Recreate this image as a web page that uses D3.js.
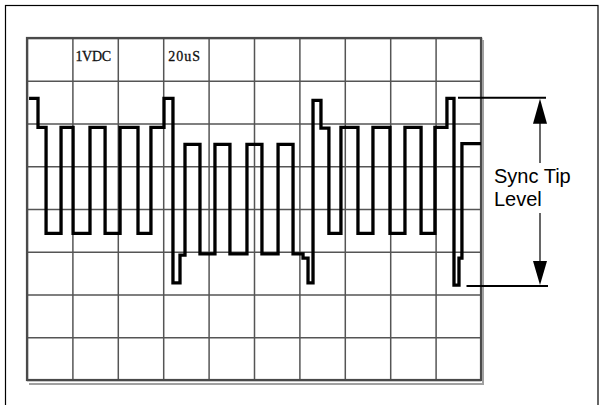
<!DOCTYPE html>
<html>
<head>
<meta charset="utf-8">
<script src="https://cdn.jsdelivr.net/npm/d3@7"></script>
<style>
	body { margin: 0; background: #fff; }
	.grid line { stroke: #555; stroke-width: 1.5; }
	.grid .domain { display: none; }
</style>
</head>
<body>
<div id="chart"></div>
<script>
// scope settings: 20uS per division, 1V per division
var timeTicks = [0, 20, 40, 60, 80, 100, 120, 140, 160, 180, 200];
var voltTicks = [-4, -3, -2, -1, 0, 1, 2, 3, 4];
var scaleLabels = ["1VDC", "20uS"];
var labelTimes = [20, 60];

// step waveform: each level holds from its time to the next time
var waveTime = [0.9, 4.85, 8.4, 15.0, 20.3, 27.75, 34.4, 41.0, 48.9, 54.6,
	60.35, 64.3, 67.4, 69.6, 76.2, 82.8, 89.4, 96.9, 103.5, 110.6,
	117.2, 121.6, 123.8, 126.0, 129.5, 133.0, 138.3, 145.8, 152.4, 159.9,
	166.5, 173.6, 179.7, 185.0, 188.1, 190.3, 191.6, 200];
var waveVolt = [2.59, 1.91, -0.57, 1.91, -0.57, 1.91, -0.57, 1.91, -0.57, 1.91,
	2.59, -1.73, -1.08, 1.51, -1.05, 1.51, -1.05, 1.51, -1.05, 1.51,
	-1.05, -1.15, -1.73, 2.54, 1.89, -0.57, 1.91, -0.57, 1.91, -0.57,
	1.91, -0.57, 1.91, 2.59, -1.78, -1.15, 1.53, 1.53];

// sync tip annotation (top and bottom of the range)
var syncTipLevels = [2.6, -1.8];
var syncTipText = ["Sync Tip", "Level"];

var width = 604, height = 405;

var svg = d3.select("#chart")
	.append("svg")
	.attr("width", width)
	.attr("height", height);

// outer frame
svg.append("rect")
	.attr("x", 5.5).attr("y", 5.5)
	.attr("width", 592.5).attr("height", 404)
	.style("fill", "none")
	.style("stroke", "#000")
	.style("stroke-width", 1.2);

var x = d3.scaleLinear().domain([0, 200]).range([27, 481]);
var y = d3.scaleLinear().domain([-4, 4]).range([380, 38]);

// graticule
svg.append("g")
	.attr("class", "grid")
	.attr("transform", "translate(0," + y(-4) + ")")
	.call(d3.axisBottom(x).tickValues(timeTicks).tickSize(-(y(-4) - y(4))).tickFormat(""));

svg.append("g")
	.attr("class", "grid")
	.attr("transform", "translate(" + x(0) + ",0)")
	.call(d3.axisLeft(y).tickValues(voltTicks).tickSize(-(x(200) - x(0))).tickFormat(""));

// graticule border with the faint shadow of the photo
svg.append("rect")
	.attr("x", x(0)).attr("y", y(4))
	.attr("width", x(200) - x(0)).attr("height", y(-4) - y(4))
	.style("fill", "none")
	.style("stroke", "#4a4a4a")
	.style("stroke-width", 2.2);

svg.append("path")
	.attr("d", "M" + (x(0) + 2) + "," + (y(-4) + 4) + "H" + (x(200) + 2) + "V" + (y(4) + 2))
	.style("fill", "none")
	.style("stroke", "#a0a0a0")
	.style("stroke-width", 2);

// scale labels
svg.selectAll(".scale-label")
	.data(scaleLabels)
	.enter().append("text")
	.attr("class", "scale-label")
	.attr("x", function(d, i) { return x(labelTimes[i]) + (i == 0 ? 3 : 5); })
	.attr("y", 60.5)
	.style("font-family", "'Liberation Serif', 'DejaVu Serif', serif")
	.style("font-size", "14px")
	.style("letter-spacing", function(d, i) { return i == 1 ? "1px" : "-0.3px"; })
	.style("fill", "#111")
	.style("stroke", "#111")
	.style("stroke-width", 0.3)
	.text(function(d) { return d; });

// waveform
var wave = waveTime.map(function(t, i) { return { t: t, v: waveVolt[i] }; });

var line = d3.line()
	.curve(d3.curveStepAfter)
	.x(function(d) { return x(d.t); })
	.y(function(d) { return y(d.v); });

svg.append("path")
	.datum(wave)
	.attr("d", line)
	.style("fill", "none")
	.style("stroke", "#000")
	.style("stroke-width", 3.3)
	.style("stroke-linejoin", "miter");

// sync tip annotation
var topY = y(syncTipLevels[0]);
var botY = y(syncTipLevels[1]);
var arrowX = 540;

svg.append("line")
	.attr("x1", 458).attr("x2", 546)
	.attr("y1", topY).attr("y2", topY)
	.style("stroke", "#000").style("stroke-width", 2);

svg.append("line")
	.attr("x1", 466.5).attr("x2", 548)
	.attr("y1", botY).attr("y2", botY)
	.style("stroke", "#000").style("stroke-width", 2);

svg.append("line")
	.attr("x1", arrowX).attr("x2", arrowX)
	.attr("y1", topY + 20).attr("y2", 163)
	.style("stroke", "#000").style("stroke-width", 1.2);

svg.append("line")
	.attr("x1", arrowX).attr("x2", arrowX)
	.attr("y1", 213).attr("y2", botY - 20)
	.style("stroke", "#000").style("stroke-width", 1.2);

svg.append("path")
	.attr("d", "M" + arrowX + "," + (topY + 1) + "L" + (arrowX - 7) + "," + (topY + 26) + "L" + (arrowX + 7) + "," + (topY + 26) + "Z")
	.style("fill", "#000");

svg.append("path")
	.attr("d", "M" + arrowX + "," + (botY - 1) + "L" + (arrowX - 7) + "," + (botY - 25) + "L" + (arrowX + 7) + "," + (botY - 25) + "Z")
	.style("fill", "#000");

svg.selectAll(".sync-label")
	.data(syncTipText)
	.enter().append("text")
	.attr("class", "sync-label")
	.attr("x", 494)
	.attr("y", function(d, i) { return 182.5 + i * 23.5; })
	.style("font-family", "'Liberation Sans', Arial, sans-serif")
	.style("font-size", "20px")
	.style("fill", "#000")
	.text(function(d) { return d; });
</script>
</body>
</html>
